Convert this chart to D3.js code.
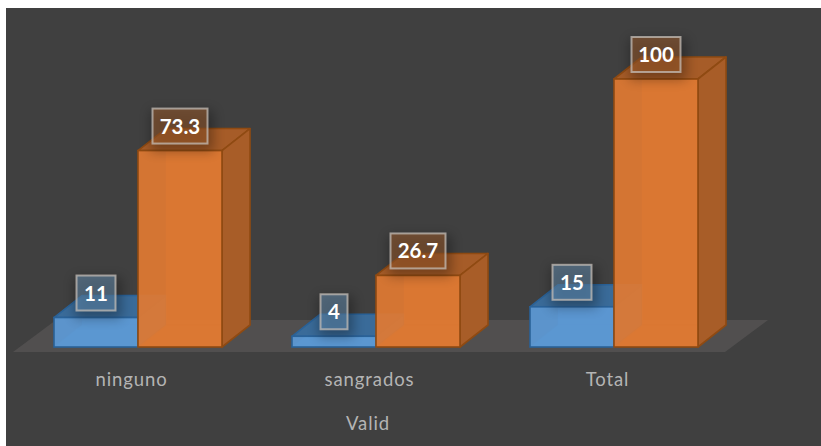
<!DOCTYPE html>
<html>
<head>
<meta charset="utf-8">
<script src="https://cdn.jsdelivr.net/npm/d3@7/dist/d3.min.js"></script>
<style>
html,body{margin:0;padding:0;background:#fff;overflow:hidden}
svg{display:block}
text{font-family:Lato,"Open Sans",sans-serif}
</style>
</head>
<body>
<svg id="chart" width="821" height="446"></svg>
<script>
const categories = ["ninguno", "sangrados", "Total"];
const seriesNames = ["Frequency", "Percent"];
const frequency = [11, 4, 15];
const percent = [73.3, 26.7, 100];
const groupTitle = "Valid";

const depthX = 28, depthY = -22;
const baseY = 347;

const svg = d3.select("#chart");
const defs = svg.append("defs");
defs.append("filter").attr("id", "labelShadow")
  .attr("x", "-50%").attr("y", "-50%").attr("width", "200%").attr("height", "200%")
  .append("feGaussianBlur").attr("stdDeviation", 6);

const x0 = d3.scaleBand().domain(categories).range([54, 768]).paddingInner(0).paddingOuter(0);
const barWidth = 84;
const groupLeft = c => x0(c);
const y = d3.scaleLinear().domain([0, 100]).range([baseY, 79]);

const palettes = {
  Frequency: {front: "#5c9ad6", top: "#3a6b99", side: "#3f75a8", back: "#4a82b8", edge: "#2a6298", tag: "#6c98bf"},
  Percent:   {front: "#e07a33", top: "#a65c28", side: "#a85d28", back: "#c46a2c", edge: "#8f4a12", tag: "#a9622f"}
};

svg.append("rect").attr("x", 6).attr("y", 8).attr("width", 815).attr("height", 438).attr("fill", "#404040");

// Floor of the 3D scene
svg.append("polygon")
  .attr("points", [[13, 352], [725, 352], [768, 320], [56, 320]].map(p => p.join(",")).join(" "))
  .attr("fill", "#514f4f");

const bars = [];
categories.forEach((c, i) => {
  bars.push({cat: c, series: "Frequency", value: frequency[i], x: groupLeft(c)});
  bars.push({cat: c, series: "Percent", value: percent[i], x: groupLeft(c) + barWidth});
});

const pts = a => a.map(p => p.join(",")).join(" ");
const scene = svg.append("g");

// Each prism: hidden faces first, then the translucent front so they show through
scene.selectAll("g.bar").data(bars).join("g").attr("class", "bar").each(function (d) {
  const g = d3.select(this), p = palettes[d.series];
  const l = d.x, r = d.x + barWidth, t = y(d.value), b = baseY;
  const face = (a, fill, op) => g.append("polygon").attr("points", pts(a))
    .attr("fill", fill).attr("fill-opacity", op)
    .attr("stroke", p.edge).attr("stroke-opacity", op < 1 ? 0.12 : 1).attr("stroke-width", 1.6)
    .attr("stroke-linejoin", "round");
  face([[l + depthX, b + depthY], [r + depthX, b + depthY], [r + depthX, t + depthY], [l + depthX, t + depthY]], p.back, 0.6);
  face([[l, b], [l + depthX, b + depthY], [r + depthX, b + depthY], [r, b]], p.back, 0.6);
  face([[l, t], [l + depthX, t + depthY], [r + depthX, t + depthY], [r, t]], p.top, 1);
  face([[r, t], [r + depthX, t + depthY], [r + depthX, b + depthY], [r, b]], p.side, 1);
  g.append("rect").attr("x", l).attr("y", t).attr("width", barWidth).attr("height", b - t)
    .attr("fill", p.front).attr("fill-opacity", 0.93)
    .attr("stroke", p.edge).attr("stroke-width", 1.6);
});

// Value labels
svg.append("g").selectAll("g").data(bars).join("g").each(function (d) {
  const g = d3.select(this), p = palettes[d.series];
  const cx = d.x + barWidth / 2;
  const top = y(d.value);
  const txt = String(d.value);
  const w = txt.length === 1 ? 27 : txt.length === 2 ? 39 : txt.length === 3 ? 49 : 55;
  const h = 35, by = top - 7 - h;
  g.append("rect").attr("x", cx - w / 2 - 2).attr("y", by + 2).attr("width", w + 8).attr("height", h + 6)
    .attr("fill", "#000").attr("opacity", 0.3).attr("filter", "url(#labelShadow)");
  g.append("rect").attr("x", cx - w / 2).attr("y", by).attr("width", w).attr("height", h)
    .attr("fill", p.tag).attr("fill-opacity", 0.48)
    .attr("stroke", "#c4bdb7").attr("stroke-opacity", 0.75).attr("stroke-width", 2);
  g.append("text").attr("x", cx).attr("y", by + h / 2 + 7.5).attr("text-anchor", "middle")
    .attr("font-size", 20.5).attr("font-weight", 700).attr("fill", "#fff").text(txt);
});

// Category axis, without its line, through the band scale
const axis = d3.axisBottom(x0).tickSize(0).tickPadding(0);
const axisG = svg.append("g").attr("transform", "translate(0,371)").call(axis);
axisG.select(".domain").remove();
axisG.selectAll("text").attr("font-family", 'Lato,"Open Sans",sans-serif').attr("font-size", 18.5)
  .attr("fill", "#b4b4b4").attr("letter-spacing", 0.9).attr("dy", 0)
  .attr("x", 0).attr("y", 15);
axisG.selectAll(".tick").attr("transform", d => `translate(${x0(d) + 77.5},0)`);

svg.append("text").attr("x", 368).attr("y", 430).attr("text-anchor", "middle")
  .attr("font-size", 18.5).attr("letter-spacing", 0.9).attr("fill", "#b4b4b4").text(groupTitle);
</script>
</body>
</html>
